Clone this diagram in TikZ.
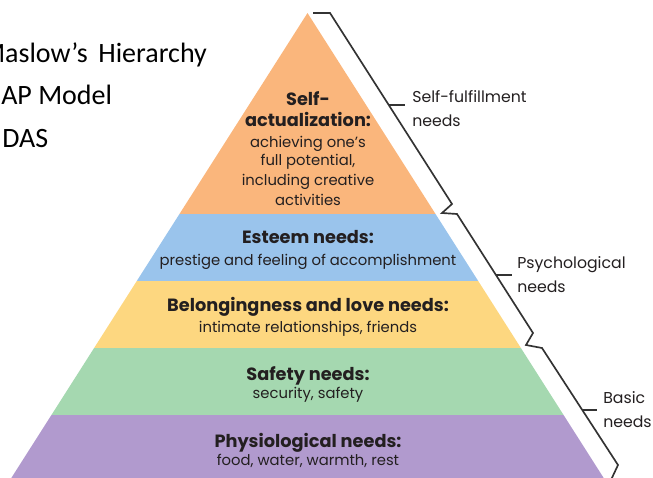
\documentclass[tikz,border=0pt]{standalone}
\usepackage{fontspec}
\usetikzlibrary{calc}
\setmainfont{Carlito}
\newfontfamily\geo{Poppins}
\definecolor{tierA}{HTML}{FAB67C}
\definecolor{tierB}{HTML}{9AC4EC}
\definecolor{tierC}{HTML}{FDD780}
\definecolor{tierD}{HTML}{A5D8B0}
\definecolor{tierE}{HTML}{B19ACE}
\definecolor{ink}{HTML}{231F20}
\definecolor{brace}{HTML}{333333}
\tikzset{
  bullet/.style={anchor=base west, inner sep=0pt, font=\fontsize{21}{25}\selectfont, text=black},
  head/.style={anchor=base, inner sep=0pt, font=\geo\bfseries\fontsize{13.3}{15}\selectfont, text=ink},
  desc/.style={anchor=base, inner sep=0pt, font=\geo\fontsize{11.1}{13}\selectfont, text=ink},
  side/.style={anchor=base west, inner sep=0pt, font=\geo\fontsize{11.8}{14}\selectfont, text=ink},
  bracket/.style={draw=brace, line width=1.25pt, line join=miter},
}
\begin{document}
\begin{tikzpicture}[x=0.75pt,y=-0.75pt]
\useasboundingbox (0,0) rectangle (653,478);
\clip (0,0) rectangle (653,478);

% bulleted list on the left
\node[bullet] (l1) at (-19,63) {Maslow’s\hspace{8pt}Hierarchy};
\node[bullet] (l2) at (1,104) {AP Model};
\node[bullet] (l3) at (2,147) {DAS};

% pyramid tiers
\begin{scope}
  \clip (307.5,13) -- (-11,513) -- (626,513) -- cycle;
  \fill[tierA] (0,0) rectangle (653,214);
  \fill[tierB] (0,214) rectangle (653,281);
  \fill[tierC] (0,281) rectangle (653,348);
  \fill[tierD] (0,348) rectangle (653,415);
  \fill[tierE] (0,415) rectangle (653,520);
\end{scope}

% tier labels
\node[head] (a1) at (308,105) {Self-};
\node[head] (a2) at (308,127) {actualization:};
\node[desc] (a3) at (308,147) {achieving one’s};
\node[desc] (a4) at (308,165) {full potential,};
\node[desc] (a5) at (308,185) {including creative};
\node[desc] (a6) at (308,205) {activities};

\node[head] (b1) at (308,243) {Esteem needs:};
\node[desc] (b2) at (308,265) {prestige and feeling of accomplishment};

\node[head] (c1) at (308,311) {Belongingness and love needs:};
\node[desc] (c2) at (308,332) {intimate relationships, friends};

\node[head] (d1) at (308,380) {Safety needs:};
\node[desc] (d2) at (308,398) {security, safety};

\node[head] (e1) at (308,447) {Physiological needs:};
\node[desc] (e2) at (308,465) {food, water, warmth, rest};

% grouping labels on the right
\node[side] (s1) at (412,103) {Self-fulfillment};
\node[side] (s2) at (412,127) {needs};
\node[side] (p1) at (517,268) {Psychological};
\node[side] (p2) at (517,292) {needs};
\node[side] (q1) at (603,403) {Basic};
\node[side] (q2) at (603,427) {needs};

% brace running down the right side
\coordinate (t0) at (313,13);
\coordinate (t1) at (330,13);
\coordinate (j1a) at (452,204);
\coordinate (j1b) at (442,213);
\coordinate (j1c) at (457,214);
\coordinate (j2a) at (533,333);
\coordinate (j2b) at (526,345);
\coordinate (j2c) at (542,348);
\coordinate (bt) at (618,465);
\coordinate (be) at (610,482);
\draw[bracket] (t0) -- (t1) -- (j1a) -- (j1b) -- (j1c) -- (j2a) -- (j2b) -- (j2c) -- (bt) -- (be);

% ticks pointing at the group labels
\coordinate (k1) at ($(t1)!0.482!(j1a)$);
\coordinate (k2) at ($(j1c)!0.513!(j2a)$);
\coordinate (k3) at ($(j2c)!0.53!(bt)$);
\draw[bracket] (k1) -- ++(16,0);
\draw[bracket] (k2) -- ++(16,0);
\draw[bracket] (k3) -- ++(15,0);
\end{tikzpicture}
\end{document}
